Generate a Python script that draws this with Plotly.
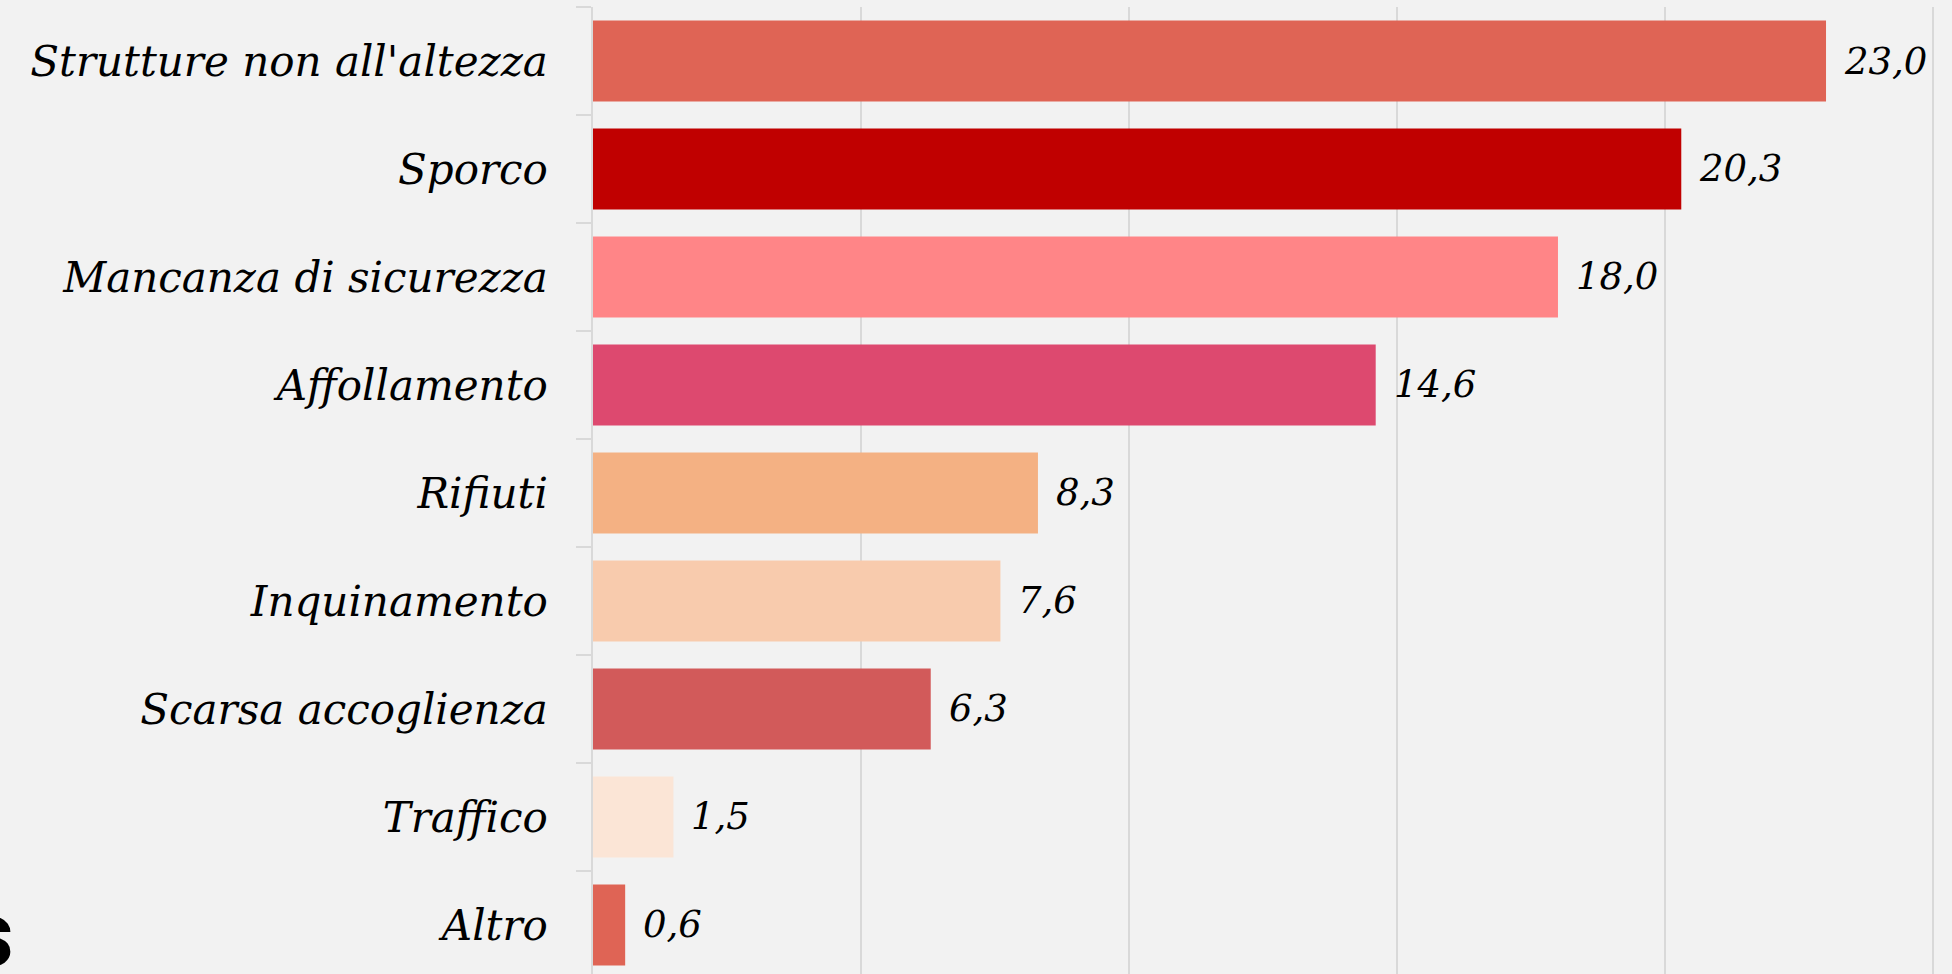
import plotly.graph_objects as go

categories = ["Strutture non all'altezza", "Sporco", "Mancanza di sicurezza", "Affollamento",
              "Rifiuti", "Inquinamento", "Scarsa accoglienza", "Traffico", "Altro"]
values = [23.0, 20.3, 18.0, 14.6, 8.3, 7.6, 6.3, 1.5, 0.6]
colors = ["#DF6455", "#C00000", "#FF8587", "#DD496F", "#F4B183",
          "#F8CBAD", "#D25A5A", "#FBE5D6", "#DF6455"]
x_ticks = [5, 10, 15, 20, 25]

FONT = "DejaVu Serif, serif"

fig = go.Figure()
fig.add_trace(go.Bar(
    x=values, y=categories, orientation="h",
    marker=dict(color=colors, line=dict(width=0)),
    hoverinfo="skip",
))

for c, v in zip(categories, values):
    fig.add_annotation(
        x=v, y=c, xref="x", yref="y", text=f"{v:.1f}".replace(".", ","),
        showarrow=False, xanchor="left", yanchor="middle", xshift=16,
        font=dict(family=FONT, size=37, color="black", style="italic"),
    )

# cut-off logo fragment at bottom-left
fig.add_annotation(
    x=-0.4253, y=0.041, xref="paper", yref="paper", text="s",
    showarrow=False, xanchor="right", yanchor="middle",
    font=dict(family="Roboto, Liberation Sans, sans-serif", size=92, color="black", weight=900),
)

fig.update_layout(
    width=1952, height=974,
    margin=dict(l=593, r=0, t=7, b=0),
    paper_bgcolor="#F2F2F2", plot_bgcolor="#F2F2F2",
    bargap=0.25,
    showlegend=False,
    xaxis=dict(
        range=[0, 25.35], tickvals=x_ticks, showticklabels=False,
        showgrid=True, gridcolor="#D9D9D9", gridwidth=1.5,
        zeroline=False, showline=False, fixedrange=True,
    ),
    yaxis=dict(
        type="category", categoryorder="array", categoryarray=categories,
        range=[8.454, -0.5],
        showline=True, linecolor="#D9D9D9", linewidth=1.5,
        ticks="outside", tickson="boundaries", ticklen=15, tickwidth=1.5, tickcolor="#D9D9D9",
        ticklabelstandoff=35,
        tickfont=dict(family=FONT, size=42, color="black", style="italic"),
        showgrid=False, zeroline=False, fixedrange=True,
    ),
)

fig.write_html(
    "out.html",
    config={"displayModeBar": False},
    post_script="document.body.style.margin='0';document.body.style.backgroundColor='#F2F2F2';document.body.style.overflow='hidden';",
)
